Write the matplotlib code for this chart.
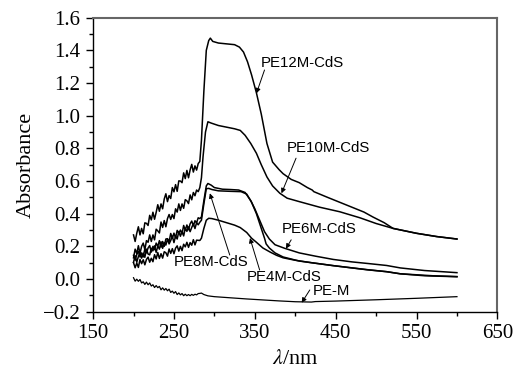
import matplotlib
matplotlib.use('Agg')
import matplotlib.pyplot as plt
from matplotlib.ticker import MultipleLocator

# noisy UV part, shared wavelengths (nm), 2 nm steps
wl_uv = [200, 202, 204, 206, 208, 210, 212, 214, 216, 218, 220, 222, 224, 226,
         228, 230, 232, 234, 236, 238, 240, 242, 244, 246, 248, 250, 252, 254,
         256, 258, 260, 262, 264, 266, 268, 270, 272, 274, 276, 278, 280, 282]

pe12_uv = [0.27, 0.23, 0.28, 0.32, 0.27, 0.31, 0.277, 0.344, 0.341, 0.328, 0.39, 0.362, 0.409, 0.366,
           0.408, 0.455, 0.415, 0.46, 0.43, 0.49, 0.522, 0.474, 0.511, 0.493, 0.56, 0.534, 0.578, 0.537,
           0.601, 0.60, 0.59, 0.65, 0.615, 0.665, 0.62, 0.668, 0.702, 0.655, 0.693, 0.667, 0.707, 0.72]
pe10_uv = [0.13, 0.183, 0.156, 0.204, 0.157, 0.20, 0.22, 0.18, 0.235, 0.225, 0.27, 0.23, 0.27, 0.24,
           0.305, 0.295, 0.282, 0.349, 0.316, 0.358, 0.32, 0.37, 0.395, 0.365, 0.395, 0.37, 0.43, 0.41,
           0.46, 0.42, 0.46, 0.433, 0.486, 0.479, 0.462, 0.515, 0.485, 0.53, 0.51, 0.545, 0.535, 0.56]
pe6_uv = [0.145, 0.115, 0.15, 0.17, 0.135, 0.16, 0.135, 0.185, 0.16, 0.19, 0.205, 0.165, 0.20, 0.18,
          0.22, 0.20, 0.235, 0.195, 0.23, 0.20, 0.245, 0.247, 0.228, 0.279, 0.25, 0.281, 0.252, 0.298,
          0.279, 0.30, 0.276, 0.328, 0.299, 0.331, 0.302, 0.338, 0.355, 0.326, 0.357, 0.344, 0.375, 0.37]
pe8_uv = [0.103, 0.143, 0.103, 0.138, 0.158, 0.128, 0.158, 0.133, 0.183, 0.153, 0.148, 0.188, 0.173, 0.203,
          0.163, 0.203, 0.183, 0.228, 0.188, 0.223, 0.208, 0.244, 0.215, 0.236, 0.262, 0.223, 0.264, 0.245,
          0.291, 0.262, 0.293, 0.264, 0.311, 0.292, 0.319, 0.29, 0.316, 0.338, 0.309, 0.345, 0.332, 0.348]
pe4_uv = [0.10, 0.069, 0.098, 0.071, 0.12, 0.094, 0.118, 0.087, 0.12, 0.134, 0.103, 0.127, 0.106, 0.149,
          0.123, 0.162, 0.126, 0.155, 0.128, 0.167, 0.161, 0.14, 0.184, 0.157, 0.186, 0.155, 0.189, 0.203,
          0.171, 0.20, 0.174, 0.213, 0.197, 0.225, 0.194, 0.223, 0.207, 0.241, 0.209, 0.238, 0.237, 0.236]
pem_uv = [0.008, -0.013, -0.001, -0.014, -0.003, -0.024, -0.017, -0.033, -0.019, -0.035, -0.024, -0.043, -0.035, -0.052,
          -0.04, -0.053, -0.045, -0.066, -0.054, -0.068, -0.058, -0.072, -0.062, -0.082, -0.074, -0.087, -0.077, -0.095,
          -0.085, -0.097, -0.089, -0.102, -0.093, -0.102, -0.095, -0.102, -0.094, -0.1, -0.093, -0.097, -0.089, -0.088]

# smoother visible part
pe12_wl = [284, 287, 290, 293, 295, 298, 305, 315, 325, 331, 336, 341, 346, 352, 358, 365, 372, 380,
           385, 395, 405, 415, 421, 423, 440, 455, 470, 485, 496, 510, 521, 550, 575, 600]
pe12_a = [0.85, 1.15, 1.40, 1.46, 1.475, 1.455, 1.445, 1.44, 1.435, 1.42, 1.39, 1.33, 1.25, 1.14, 1.01, 0.83, 0.716, 0.67,
          0.645, 0.61, 0.59, 0.56, 0.545, 0.535, 0.50, 0.47, 0.44, 0.41, 0.38, 0.345, 0.31, 0.28, 0.26, 0.245]

pe10_wl = [284, 286, 289, 292, 296, 305, 315, 325, 332, 338, 345, 352, 358, 365, 372, 381, 390, 405,
           430, 455, 480, 500, 521, 550, 575, 600]
pe10_a = [0.62, 0.75, 0.90, 0.963, 0.955, 0.94, 0.93, 0.92, 0.91, 0.88, 0.83, 0.77, 0.70, 0.625, 0.57, 0.525, 0.495, 0.474,
          0.44, 0.412, 0.375, 0.34, 0.31, 0.28, 0.26, 0.245]

pe6_wl = [284, 287, 290, 292, 296, 300, 310, 320, 330, 338, 345, 350, 356, 362, 368, 375, 387, 405,
          425, 447, 470, 490, 513, 530, 560, 600]
pe6_a = [0.38, 0.48, 0.57, 0.585, 0.575, 0.56, 0.55, 0.548, 0.545, 0.53, 0.48, 0.43, 0.36, 0.29, 0.245, 0.21, 0.188, 0.16,
         0.14, 0.12, 0.105, 0.095, 0.083, 0.068, 0.052, 0.039]

pe8_wl = [284, 287, 290, 293, 297, 305, 320, 333, 340, 346, 352, 358, 362, 364, 368, 375, 385, 405,
          447, 488, 513, 530, 570, 600]
pe8_a = [0.36, 0.46, 0.553, 0.555, 0.548, 0.54, 0.537, 0.535, 0.52, 0.47, 0.40, 0.31, 0.25, 0.215, 0.19, 0.16, 0.135, 0.11,
         0.082, 0.058, 0.045, 0.032, 0.02, 0.015]

pe4_wl = [284, 287, 290, 293, 297, 305, 315, 325, 332, 340, 346, 352, 360, 369, 377, 385, 400, 420,
          447, 470, 490, 513, 530, 560, 600]
pe4_a = [0.25, 0.31, 0.36, 0.372, 0.37, 0.36, 0.345, 0.33, 0.315, 0.285, 0.25, 0.225, 0.19, 0.165, 0.145, 0.13, 0.115, 0.10,
         0.082, 0.068, 0.056, 0.045, 0.032, 0.02, 0.014]

pem_wl = [284, 287, 292, 300, 320, 340, 360, 380, 400, 420, 425, 450, 500, 550, 600]
pem_a = [-0.086, -0.095, -0.103, -0.108, -0.115, -0.122, -0.128, -0.134, -0.139, -0.141, -0.138, -0.135,
         -0.127, -0.118, -0.108]

xticks = [150, 250, 350, 450, 550, 650]
yticks = [-0.2, 0.0, 0.2, 0.4, 0.6, 0.8, 1.0, 1.2, 1.4, 1.6]

# label: (text pos, arrow tail, arrow tip)
labels = {
    'PE12M-CdS': ((357, 1.32), (362, 1.28), (352, 1.137)),
    'PE10M-CdS': ((389, 0.80), (401, 0.74), (383, 0.525)),
    'PE6M-CdS': ((383, 0.305), (395, 0.24), (388.5, 0.186)),
    'PE8M-CdS': ((250, 0.104), (319, 0.147), (294.4, 0.525)),
    'PE4M-CdS': ((340, 0.012), (356, 0.055), (344, 0.251)),
    'PE-M': ((422, -0.073), (418, -0.067), (408, -0.145)),
}

plt.rcParams['font.family'] = 'Liberation Serif'
plt.rcParams['mathtext.fontset'] = 'stix'

fig = plt.figure(figsize=(5.23, 3.74), dpi=100)
ax = fig.add_axes([0.178, 0.1666, 0.773, 0.786])

ax.plot(wl_uv + pe12_wl, pe12_uv + pe12_a, color='k', lw=1.1)
ax.plot(wl_uv + pe10_wl, pe10_uv + pe10_a, color='k', lw=1.1)
ax.plot(wl_uv + pe6_wl, pe6_uv + pe6_a, color='k', lw=1.1)
ax.plot(wl_uv + pe8_wl, pe8_uv + pe8_a, color='k', lw=1.1)
ax.plot(wl_uv + pe4_wl, pe4_uv + pe4_a, color='k', lw=1.1)
ax.plot(wl_uv + pem_wl, pem_uv + pem_a, color='k', lw=0.9)

for name, (tpos, tail, tip) in labels.items():
    ax.text(tpos[0], tpos[1], name, family='Liberation Sans', fontsize=10.8, ha='left', va='center')
    ax.annotate('', xy=tip, xytext=tail,
                arrowprops=dict(arrowstyle='-|>', color='k', lw=0.7, mutation_scale=7,
                                shrinkA=0, shrinkB=0))

ax.set_xlim(150, 650)
ax.set_ylim(-0.2, 1.6)
ax.set_xticks(xticks)
ax.set_yticks(yticks)
ax.set_yticklabels(['\u22120.2' if v < 0 else '%.1f' % v for v in yticks])
ax.xaxis.set_minor_locator(MultipleLocator(50))
ax.yaxis.set_minor_locator(MultipleLocator(0.1))
ax.tick_params(which='both', direction='out', top=False, right=False, labelsize=15, width=1)
ax.tick_params(which='major', length=5, pad=4)
ax.tick_params(which='minor', length=3)
for s in ['top', 'right']:
    ax.spines[s].set_color('#666666')
    ax.spines[s].set_linewidth(1.5)
for s in ['left', 'bottom']:
    ax.spines[s].set_linewidth(1.0)

ax.set_xlabel(r'$\lambda$/nm', fontsize=16, labelpad=5)
ax.set_ylabel('Absorbance', fontsize=16, labelpad=5)

fig.savefig('out.png', dpi=100)
